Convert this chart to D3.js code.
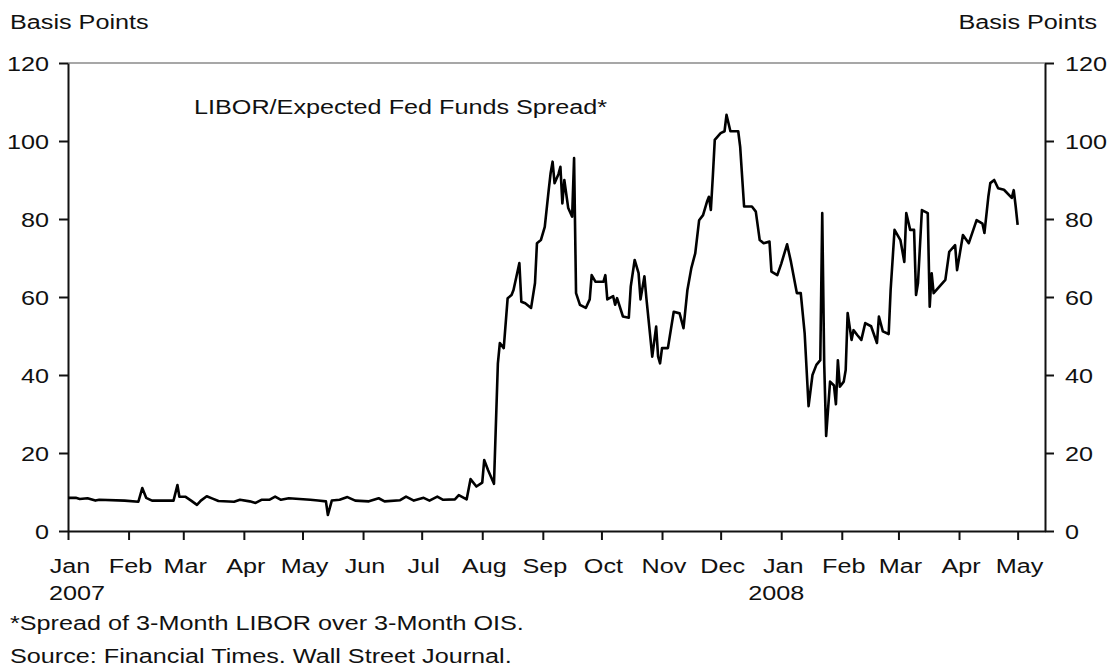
<!DOCTYPE html>
<html>
<head>
<meta charset="utf-8">
<script src="https://cdn.jsdelivr.net/npm/d3@7"></script>
<style>
  body { margin: 0; background: #fff; }
  text { font-family: "Liberation Sans", Arial, sans-serif; font-size: 21px; fill: #111; }
</style>
</head>
<body>
<svg id="chart" width="1112" height="671"></svg>
<script>
// spread readings (basis points)
var spreadDates = [
  "2007-01-01","2007-01-05","2007-01-07","2007-01-11","2007-01-15","2007-01-17","2007-01-30",
  "2007-02-06","2007-02-08","2007-02-10","2007-02-13","2007-02-24","2007-02-26","2007-02-27",
  "2007-03-02","2007-03-05","2007-03-08","2007-03-10","2007-03-13","2007-03-16","2007-03-19",
  "2007-03-27","2007-03-30","2007-04-04","2007-04-07","2007-04-10","2007-04-14","2007-04-17",
  "2007-04-20","2007-04-24","2007-05-05","2007-05-09","2007-05-13","2007-05-14","2007-05-16",
  "2007-05-20","2007-05-24","2007-05-28","2007-06-04","2007-06-09","2007-06-12","2007-06-20",
  "2007-06-23","2007-06-27","2007-07-02","2007-07-05","2007-07-09","2007-07-12","2007-07-18",
  "2007-07-20","2007-07-24","2007-07-26","2007-07-29","2007-08-01","2007-08-02","2007-08-04",
  "2007-08-07","2007-08-08","2007-08-09","2007-08-10","2007-08-12","2007-08-14","2007-08-16",
  "2007-08-17","2007-08-20","2007-08-21","2007-08-23","2007-08-26","2007-08-28","2007-08-29",
  "2007-08-31","2007-09-02","2007-09-04","2007-09-05","2007-09-06","2007-09-07","2007-09-09",
  "2007-09-10","2007-09-11","2007-09-12","2007-09-14","2007-09-16","2007-09-17","2007-09-18",
  "2007-09-20","2007-09-23","2007-09-25","2007-09-26","2007-09-28","2007-10-02","2007-10-03",
  "2007-10-04","2007-10-07","2007-10-08","2007-10-09","2007-10-12","2007-10-15","2007-10-16",
  "2007-10-18","2007-10-20","2007-10-21","2007-10-23","2007-10-24","2007-10-26","2007-10-27",
  "2007-10-29","2007-10-30","2007-10-31","2007-11-01","2007-11-04","2007-11-07","2007-11-10",
  "2007-11-12","2007-11-14","2007-11-16","2007-11-18","2007-11-20","2007-11-22","2007-11-24",
  "2007-11-25","2007-11-26","2007-11-27","2007-11-28","2007-12-01","2007-12-03","2007-12-04",
  "2007-12-05","2007-12-06","2007-12-10","2007-12-11","2007-12-13","2007-12-17","2007-12-19",
  "2007-12-21","2007-12-23","2007-12-26","2007-12-27","2007-12-30","2008-01-01","2008-01-04",
  "2008-01-06","2008-01-09","2008-01-11","2008-01-13","2008-01-15","2008-01-17","2008-01-19",
  "2008-01-21","2008-01-22","2008-01-23","2008-01-24","2008-01-26","2008-01-28","2008-01-29",
  "2008-01-30","2008-01-31","2008-02-02","2008-02-03","2008-02-04","2008-02-06","2008-02-07",
  "2008-02-09","2008-02-11","2008-02-13","2008-02-16","2008-02-19","2008-02-20","2008-02-22",
  "2008-02-25","2008-02-26","2008-02-28","2008-03-02","2008-03-04","2008-03-05","2008-03-07",
  "2008-03-09","2008-03-10","2008-03-11","2008-03-13","2008-03-16","2008-03-17","2008-03-18",
  "2008-03-19","2008-03-25","2008-03-27","2008-03-30","2008-03-31","2008-04-03","2008-04-06",
  "2008-04-10","2008-04-13","2008-04-14","2008-04-16","2008-04-17","2008-04-19","2008-04-21",
  "2008-04-24","2008-04-28","2008-04-29","2008-04-30","2008-05-01"
];
var spreadValues = [
  8.5, 8.5, 8.2, 8.4, 7.8, 8.0, 7.8,
  7.5, 11.0, 8.5, 7.8, 7.8, 11.8, 8.8,
  8.8, 7.8, 6.7, 7.8, 8.9, 8.3, 7.7,
  7.5, 8.0, 7.6, 7.2, 8.0, 8.0, 8.8,
  8.0, 8.4, 8.0, 7.8, 7.6, 4.1, 7.8,
  8.0, 8.7, 7.8, 7.6, 8.4, 7.6, 7.9,
  8.8, 7.8, 8.5, 7.8, 8.8, 8.0, 8.1,
  9.2, 8.1, 13.3, 11.4, 12.4, 18.2, 15.6,
  12.1, 27.6, 43.0, 48.2, 46.9, 59.7, 60.5,
  61.8, 68.7, 58.8, 58.4, 57.2, 63.6, 73.8,
  74.6, 78.0, 87.4, 91.8, 94.7, 89.2, 91.5,
  93.4, 84.0, 90.0, 82.8, 80.6, 95.6, 61.0,
  58.0, 57.2, 59.4, 65.6, 63.9, 63.9, 65.6,
  59.4, 60.2, 58.0, 59.7, 55.0, 54.7, 62.7,
  69.5, 66.1, 59.4, 65.3, 59.7, 49.8, 44.7,
  52.4, 44.7, 43.0, 46.9, 46.9, 56.2, 55.8,
  52.0, 61.8, 67.4, 71.2, 79.7, 81.0, 84.4,
  85.7, 82.3, 90.9, 100.3, 102.0, 102.5, 106.7,
  104.6, 102.5, 102.5, 98.5, 83.2, 83.2, 81.9,
  74.6, 73.8, 74.2, 66.5, 65.6, 68.5, 73.5,
  69.0, 61.0, 61.0, 50.7, 32.0, 40.0, 42.6,
  43.8, 81.5, 43.0, 24.4, 38.3, 37.3, 32.5,
  43.8, 37.0, 38.3, 41.3, 55.9, 49.0, 51.5,
  50.2, 49.0, 53.3, 52.5, 48.2, 55.0, 51.2,
  50.5, 61.8, 77.2, 74.6, 69.0, 81.5, 77.2,
  77.2, 60.5, 63.6, 82.3, 81.5, 57.5, 66.1,
  61.0, 64.4, 71.6, 73.3, 66.9, 75.9, 73.8,
  79.7, 78.8, 76.4, 85.7, 89.2, 90.0, 87.9,
  87.5, 85.4, 87.4, 83.2, 78.5
];

var yTicks = [0, 20, 40, 60, 80, 100, 120];
var monthNames = ["Jan","Feb","Mar","Apr","May","Jun","Jul","Aug","Sep","Oct","Nov","Dec"];
var axisTitle = "Basis Points";
var seriesTitle = "LIBOR/Expected Fed Funds Spread*";
var footnotes = ["*Spread of 3-Month LIBOR over 3-Month OIS.", "Source: Financial Times. Wall Street Journal."];

var parse = d3.timeParse("%Y-%m-%d");
var data = spreadDates.map(function(d, i) { return { date: parse(d), value: spreadValues[i] }; });

var plotLeft = 68, plotRight = 1045, plotTop = 63, plotBottom = 531;
var stretch = 1.2; // the source type is horizontally widened

var svg = d3.select("#chart");

var x = d3.scaleTime()
    .domain([parse("2007-01-01"), parse("2008-05-15")])
    .range([plotLeft, plotRight]);
var y = d3.scaleLinear().domain([0, 120]).range([plotBottom, plotTop]);

// writes text widened like the original
function label(px, py, str, anchor) {
    svg.append("g")
        .attr("transform", "translate(" + px + "," + py + ")")
        .append("text")
        .attr("transform", "scale(" + stretch + ",1)")
        .attr("text-anchor", anchor || "start")
        .text(str);
}

// top border
svg.append("line")
    .attr("x1", plotLeft).attr("x2", plotRight)
    .attr("y1", plotTop).attr("y2", plotTop)
    .attr("stroke", "#8a8a8a").attr("stroke-width", 1.5);

// axes
var yLeft = d3.axisLeft(y).tickValues(yTicks).tickSize(9).tickSizeOuter(0).tickFormat("");
var yRight = d3.axisRight(y).tickValues(yTicks).tickSize(9).tickSizeOuter(0).tickFormat("");
var months = x.ticks(d3.timeMonth.every(1));
var xAxis = d3.axisBottom(x).tickValues(months).tickSize(9).tickSizeOuter(0).tickFormat("");

svg.append("g").attr("transform", "translate(" + plotLeft + ",0)").call(yLeft);
svg.append("g").attr("transform", "translate(" + plotRight + ",0)").call(yRight);
svg.append("g").attr("transform", "translate(0," + plotBottom + ")").call(xAxis);

svg.selectAll(".domain").attr("stroke", "#111").attr("stroke-width", 2);
svg.selectAll(".tick line").attr("stroke", "#111").attr("stroke-width", 2);

// tick labels
yTicks.forEach(function(t) {
    label(49, y(t) + 7.5, t, "end");
    label(1065, y(t) + 7.5, t, "start");
});
months.forEach(function(m) {
    label(x(m) + 2, 573, monthNames[m.getMonth()], "middle");
    if (m.getMonth() === 0) {
        label(x(m) + (m.getFullYear() === 2007 ? 9 : -5), 600, m.getFullYear(), "middle");
    }
});

// line
var line = d3.line()
    .x(function(d) { return x(d.date); })
    .y(function(d) { return y(d.value); });

svg.append("path")
    .datum(data)
    .attr("fill", "none")
    .attr("stroke", "#000")
    .attr("stroke-width", 2.6)
    .attr("stroke-linejoin", "round")
    .attr("d", line);

// titles and notes
label(10, 29, axisTitle);
label(1097, 29, axisTitle, "end");
label(194, 114, seriesTitle);
label(10, 630, footnotes[0]);
label(10, 663, footnotes[1]);
</script>
</body>
</html>
